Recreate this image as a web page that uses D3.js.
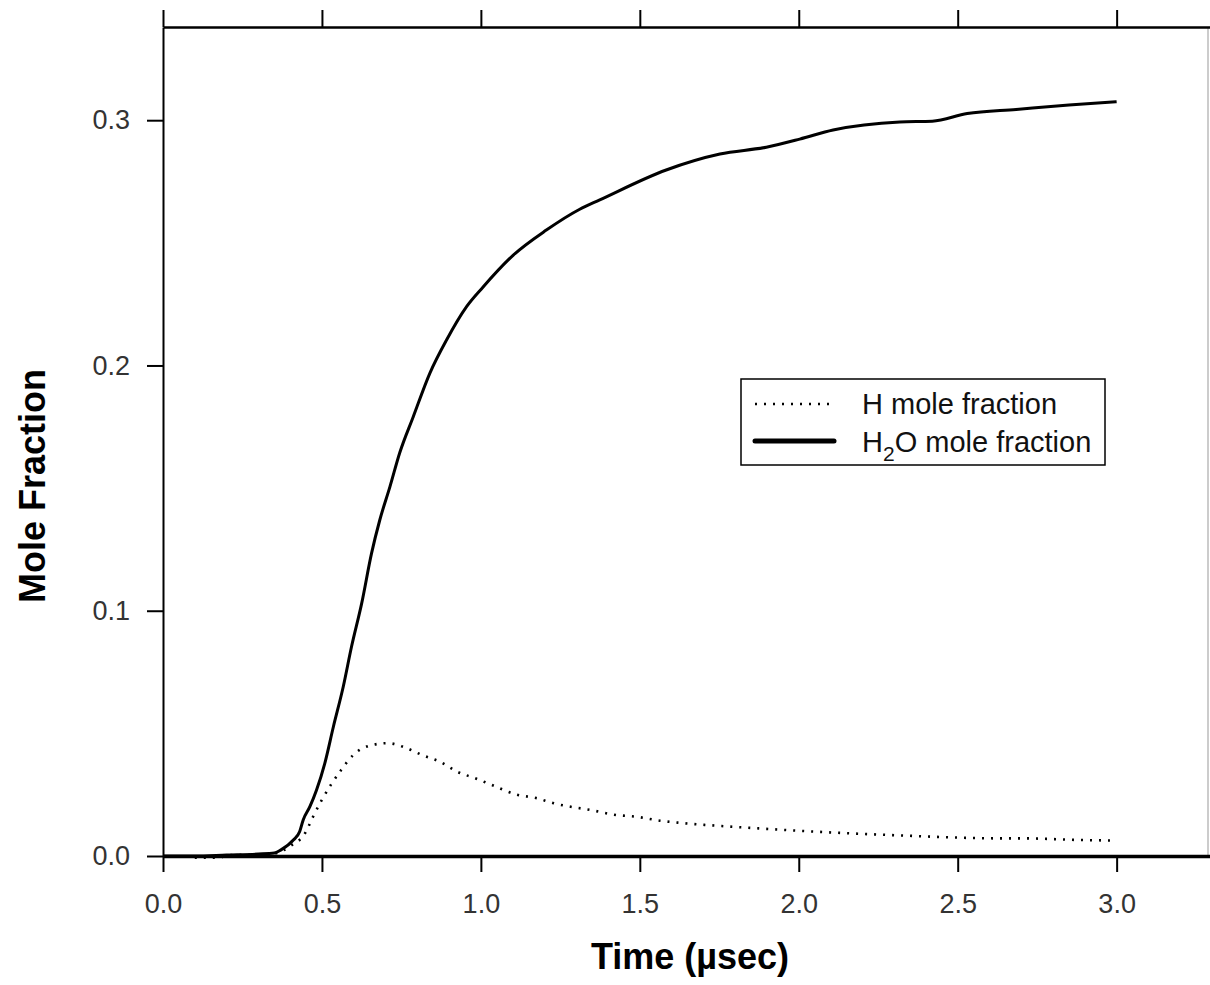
<!DOCTYPE html>
<html>
<head>
<meta charset="utf-8">
<script src="https://cdn.jsdelivr.net/npm/d3@7"></script>
<style>
  body { margin: 0; background: #fff; }
  svg { display: block; }
</style>
</head>
<body>
<svg id="chart"></svg>
<script>
// Data
const h2oTime = [0, 0.1, 0.2, 0.3, 0.35, 0.37, 0.41, 0.43, 0.441, 0.462, 0.483, 0.509, 0.536, 0.567, 0.593, 0.625, 0.656, 0.682, 0.714, 0.745, 0.787, 0.84, 0.892, 0.955, 1.007, 1.102, 1.206, 1.311, 1.374, 1.583, 1.752, 1.898, 2.003, 2.108, 2.318, 2.42, 2.53, 2.684, 2.85, 3.0];
const h2oFrac = [0, 0, 0.0004, 0.0008, 0.0012, 0.0024, 0.0065, 0.01, 0.0147, 0.0201, 0.0269, 0.0378, 0.0527, 0.069, 0.0853, 0.103, 0.1234, 0.137, 0.1506, 0.1645, 0.179, 0.197, 0.2104, 0.224, 0.232, 0.245, 0.2552, 0.2637, 0.2675, 0.2797, 0.2862, 0.289, 0.2923, 0.296, 0.2993, 0.2996, 0.3027, 0.3044, 0.3062, 0.3075];

const hTime = [0.1, 0.18, 0.2, 0.3, 0.35, 0.4, 0.447, 0.472, 0.498, 0.528, 0.56, 0.597, 0.65, 0.708, 0.766, 0.818, 0.872, 0.925, 0.982, 1.034, 1.113, 1.176, 1.226, 1.286, 1.343, 1.427, 1.49, 1.563, 1.62, 1.758, 1.868, 2.056, 2.135, 2.355, 2.434, 2.626, 2.7, 2.894, 3.0];
const hFrac = [-0.0007, -0.0007, 0.0003, 0.0006, 0.001, 0.004, 0.0093, 0.016, 0.0225, 0.029, 0.035, 0.041, 0.045, 0.046, 0.044, 0.041, 0.0384, 0.0344, 0.0317, 0.029, 0.025, 0.0236, 0.0216, 0.02, 0.0188, 0.0167, 0.016, 0.0144, 0.0136, 0.0122, 0.0113, 0.0099, 0.0094, 0.0082, 0.0078, 0.0072, 0.0072, 0.0065, 0.0063];

const xTicks = [0, 0.5, 1.0, 1.5, 2.0, 2.5, 3.0];
const yTicks = [0, 0.1, 0.2, 0.3];
const seriesNames = ["H mole fraction", "H2O mole fraction"];

// Set the size
let width = 1210;
let height = 985;
let plotLeft = 163, plotRight = 1212, plotTop = 27, plotBottom = 856;
let svg = d3.select("#chart").attr("width", width).attr("height", height);

let x = d3.scaleLinear().domain([0, 3.3]).range([plotLeft, plotRight]);
let y = d3.scaleLinear().domain([0, 0.338]).range([plotBottom, plotTop]);

let tickFont = "'Liberation Sans', Arial, sans-serif";
let tickColor = "#333";

// thin frame on the right
svg.append("line")
  .attr("x1", 1208).attr("x2", 1208)
  .attr("y1", plotTop).attr("y2", plotBottom)
  .attr("stroke", "#999").attr("stroke-width", 1);

// Top axis (ticks only)
let topAxis = svg.append("g")
  .attr("transform", "translate(0," + plotTop + ")")
  .call(d3.axisTop(x).tickValues(xTicks).tickSize(17).tickFormat("").tickSizeOuter(0));
topAxis.select(".domain").attr("stroke-width", 2.5);
topAxis.selectAll(".tick line").attr("stroke-width", 2);

// Bottom axis
let xAxis = svg.append("g")
  .attr("transform", "translate(0," + plotBottom + ")")
  .call(d3.axisBottom(x).tickValues(xTicks).tickSize(16).tickPadding(22).tickFormat(d3.format(".1f")).tickSizeOuter(0));
xAxis.select(".domain").attr("stroke-width", 3.5);
xAxis.selectAll(".tick line").attr("stroke-width", 2);
xAxis.selectAll("text")
  .attr("font-family", tickFont).attr("font-size", 27).attr("fill", tickColor);

// Left axis
let yAxis = svg.append("g")
  .attr("transform", "translate(" + plotLeft + ",0)")
  .call(d3.axisLeft(y).tickValues(yTicks).tickSize(16).tickPadding(17).tickFormat(d3.format(".1f")).tickSizeOuter(0));
yAxis.select(".domain").attr("stroke-width", 2);
yAxis.selectAll(".tick line").attr("stroke-width", 2);
yAxis.selectAll("text")
  .attr("font-family", tickFont).attr("font-size", 27).attr("fill", tickColor);

// Axis titles
svg.append("text")
  .attr("x", 690).attr("y", 969)
  .attr("text-anchor", "middle")
  .attr("font-family", tickFont).attr("font-weight", "bold").attr("font-size", 36)
  .text("Time (\u00b5sec)");

svg.append("text")
  .attr("transform", "translate(45,486) rotate(-90)")
  .attr("text-anchor", "middle")
  .attr("font-family", tickFont).attr("font-weight", "bold").attr("font-size", 36)
  .text("Mole Fraction");

// Lines
let line = d3.line().curve(d3.curveMonotoneX).x((d) => x(d[0])).y((d) => y(d[1]));
let h2oData = h2oTime.map((t, i) => [t, h2oFrac[i]]);
let hData = hTime.map((t, i) => [t, hFrac[i]]);

svg.append("path")
  .datum(hData)
  .attr("d", line)
  .attr("fill", "none")
  .attr("stroke", "#000")
  .attr("stroke-width", 2.6)
  .attr("stroke-dasharray", "2,7");

svg.append("path")
  .datum(h2oData)
  .attr("d", line)
  .attr("fill", "none")
  .attr("stroke", "#000")
  .attr("stroke-width", 3)
  .attr("stroke-linejoin", "round");

// Legend
let legend = svg.append("g");
legend.append("rect")
  .attr("x", 741).attr("y", 379)
  .attr("width", 364).attr("height", 86)
  .attr("fill", "#fff").attr("stroke", "#000").attr("stroke-width", 1.5);

legend.append("line")
  .attr("x1", 755).attr("x2", 834).attr("y1", 404).attr("y2", 404)
  .attr("stroke", "#000").attr("stroke-width", 2.6).attr("stroke-dasharray", "2,7");
legend.append("line")
  .attr("x1", 755).attr("x2", 834).attr("y1", 441).attr("y2", 441)
  .attr("stroke", "#000").attr("stroke-width", 5).attr("stroke-linecap", "round");

legend.append("text")
  .attr("x", 862).attr("y", 414)
  .attr("font-family", tickFont).attr("font-size", 29).attr("fill", "#111")
  .text(seriesNames[0]);

let t2 = legend.append("text")
  .attr("x", 862).attr("y", 452)
  .attr("font-family", tickFont).attr("font-size", 29).attr("fill", "#111");
t2.append("tspan").text("H");
t2.append("tspan").attr("dy", 9).attr("font-size", 21).text("2");
t2.append("tspan").attr("dy", -9).text("O mole fraction");
</script>
</body>
</html>
